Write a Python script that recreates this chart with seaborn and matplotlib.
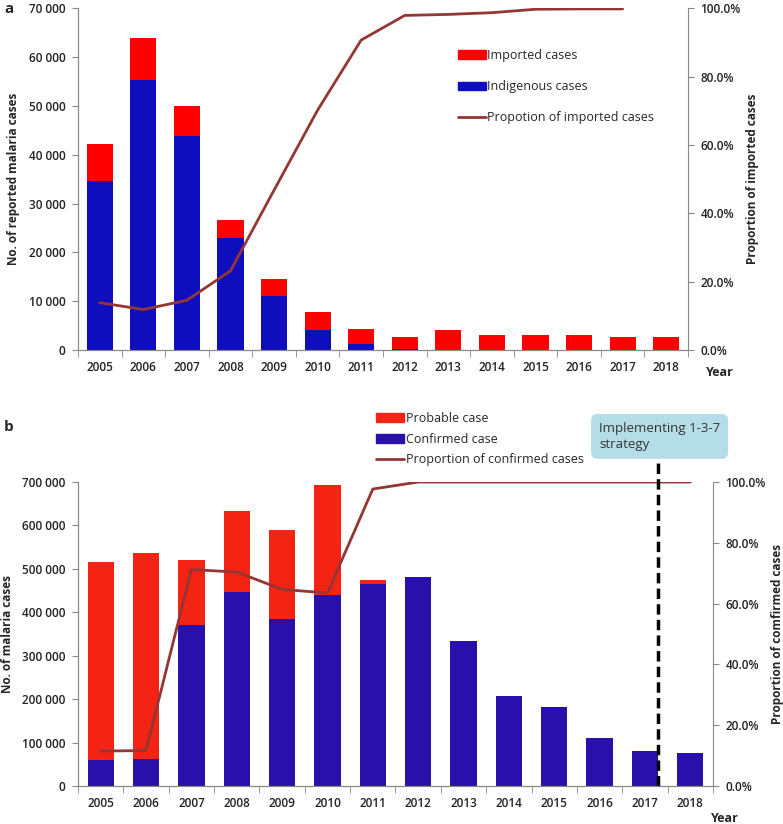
import numpy as np
import pandas as pd
import matplotlib
matplotlib.use("Agg")
import matplotlib.pyplot as plt
import matplotlib.ticker as mticker
from matplotlib.patches import Patch
from matplotlib.lines import Line2D
import seaborn as sns

sns.set_style("ticks")
plt.rcParams['font.family'] = ['Open Sans', 'DejaVu Sans']
plt.rcParams['font.weight'] = 'semibold'

years = ['2005', '2006', '2007', '2008', '2009', '2010', '2011',
         '2012', '2013', '2014', '2015', '2016', '2017', '2018']

# panel a
imported = [7640, 8670, 6150, 3820, 3420, 3690, 3070, 2300, 4100, 3070, 3200, 3200, 2600, 2600]
indigenous = [34560, 55250, 43910, 22880, 11060, 4230, 1370, 300, 0, 0, 0, 0, 0, 0]
prop_imported = [13.9, 11.9, 14.6, 23.2, 46.8, 70.2, 90.7, 97.9, 98.2, 98.7, 99.7, 99.8, 99.8]

# panel b
probable = [456700, 473600, 149600, 186500, 204900, 251700, 10000, 0, 0, 0, 0, 0, 0, 0]
confirmed = [59100, 62900, 370000, 446700, 385300, 440600, 465100, 481300, 333900,
             206500, 181900, 109800, 80600, 76800]
prop_confirmed = [11.5, 11.7, 71.2, 70.4, 64.7, 63.5, 97.7, 100, 100, 100, 100, 100, 100, 100]

LINE = '#943634'
GRAY = '#888888'

fig = plt.figure(figsize=(7.83, 8.24), dpi=100)
ax_a = fig.add_axes([0.0996, 0.575, 0.779, 0.415])
ax_b = fig.add_axes([0.0996, 0.046, 0.811, 0.369])


def style_axes(ax, ax2, ymax, ystep, right_label, left_label):
    ax.set_xlim(-0.5, len(years) - 0.5)
    ax.set_ylim(0, ymax)
    ax2.set_ylim(0, 100)
    ax.yaxis.set_major_locator(mticker.MultipleLocator(ystep))
    ax.yaxis.set_major_formatter(mticker.FuncFormatter(
        lambda v, p: f"{int(v):,}".replace(',', ' ')))
    ax2.yaxis.set_major_locator(mticker.MultipleLocator(20))
    ax2.yaxis.set_major_formatter(mticker.FuncFormatter(lambda v, p: f"{v:.1f}%"))
    ax.set_xticks(range(len(years)))
    ax.set_xticklabels(years)
    ax.set_xticks(np.arange(-0.5, len(years)), minor=True)
    ax.tick_params(axis='x', which='major', length=0, pad=8)
    ax.tick_params(axis='x', which='minor', length=5, color=GRAY)
    ax.tick_params(axis='y', length=4, color=GRAY, pad=5)
    ax2.tick_params(axis='y', length=4, color=GRAY, pad=5)
    for a in (ax, ax2):
        a.tick_params(labelsize=8.5, labelcolor='#222222')
        for s in a.spines.values():
            s.set_color(GRAY)
        a.spines['top'].set_visible(False)
    ax.spines['right'].set_visible(False)
    ax.set_xlabel('')
    ax.set_ylabel(left_label, fontsize=8.5, fontweight='bold', labelpad=6)
    ax2.set_ylabel(right_label, fontsize=8.5, fontweight='bold', labelpad=4)


# ---- panel a
df_a = pd.DataFrame({'year': years, 'imported': imported, 'indigenous': indigenous})
df_a['total'] = df_a['imported'] + df_a['indigenous']
sns.barplot(data=df_a, x='year', y='total', color='#FF0000', width=0.6,
            saturation=1, linewidth=0, ax=ax_a)
sns.barplot(data=df_a, x='year', y='indigenous', color='#0E0EBE', width=0.6,
            saturation=1, linewidth=0, ax=ax_a)
ax_a2 = ax_a.twinx()
sns.lineplot(x=np.arange(len(prop_imported)), y=prop_imported, color=LINE,
             linewidth=2, ax=ax_a2)
style_axes(ax_a, ax_a2, 70000, 10000, 'Proportion of imported cases',
           'No. of reported malaria cases')
ax_a.legend(handles=[Patch(color='#FF0000', label='Imported cases'),
                     Patch(color='#0E0EBE', label='Indigenous cases'),
                     Line2D([], [], color=LINE, lw=2, label='Propotion of imported cases')],
            loc='upper left', bbox_to_anchor=(0.615, 0.895), frameon=False,
            labelspacing=1.45, handlelength=2.2, handleheight=0.7,
            handletextpad=0.15, borderaxespad=0, prop={'weight': 'normal', 'size': 9})
fig.text(0.005, 0.997, 'a', fontsize=11, fontweight='bold', va='top')
fig.text(0.902, 0.548, 'Year', fontsize=9, fontweight='bold', va='center')

# ---- panel b
df_b = pd.DataFrame({'year': years, 'probable': probable, 'confirmed': confirmed})
df_b['total'] = df_b['probable'] + df_b['confirmed']
sns.barplot(data=df_b, x='year', y='total', color='#F42314', width=0.58,
            saturation=1, linewidth=0, ax=ax_b)
sns.barplot(data=df_b, x='year', y='confirmed', color='#2A10AA', width=0.58,
            saturation=1, linewidth=0, ax=ax_b)
ax_b2 = ax_b.twinx()
sns.lineplot(x=np.arange(len(prop_confirmed)), y=prop_confirmed, color=LINE,
             linewidth=2, ax=ax_b2)
style_axes(ax_b, ax_b2, 700000, 100000, 'Proportion of comfirmed cases',
           'No. of malaria cases')
ax_b2.axvline(12.29, ymin=0, ymax=1.08, color='black', lw=2.5,
              linestyle=(0, (3, 1.5)), clip_on=False)
ax_b.legend(handles=[Patch(color='#F42314', label='Probable case'),
                     Patch(color='#2A10AA', label='Confirmed case'),
                     Line2D([], [], color=LINE, lw=2, label='Proportion of confirmed cases')],
            loc='upper left', bbox_to_anchor=(0.474, 0.506), bbox_transform=fig.transFigure,
            frameon=False, labelspacing=0.6, handlelength=2.2,
            handleheight=0.7, handletextpad=0.15, borderaxespad=0,
            prop={'weight': 'normal', 'size': 9})
fig.text(0.765, 0.488, 'Implementing 1-3-7\nstrategy', fontsize=9.5, fontweight='normal',
         color='#333333', va='top', ha='left', linespacing=1.3,
         bbox=dict(boxstyle='round,pad=0.6,rounding_size=0.5', fc='#B5DDE8', ec='none'))
fig.text(0.005, 0.49, 'b', fontsize=11, fontweight='bold', va='top')
fig.text(0.908, 0.007, 'Year', fontsize=9, fontweight='bold', va='center')

fig.savefig('out.png', dpi=100)
